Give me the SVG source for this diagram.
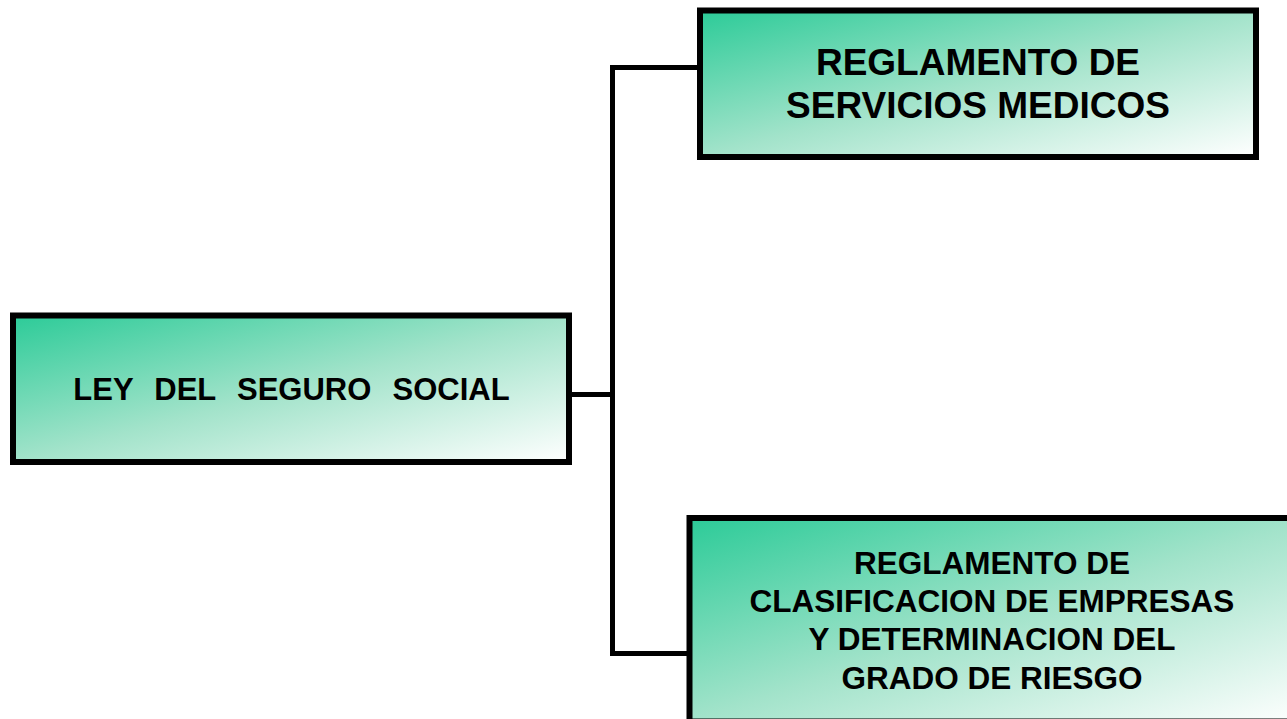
<svg xmlns="http://www.w3.org/2000/svg" width="1287" height="719" viewBox="0 0 1287 719">
<defs>
<linearGradient id="g" x1="0" y1="0" x2="1" y2="1">
<stop offset="0" stop-color="#2CCB98"/>
<stop offset="0.5" stop-color="#A2E3CA"/>
<stop offset="1" stop-color="#FFFFFF"/>
</linearGradient>
</defs>
<style>
.box{fill:url(#g);stroke:#000;stroke-width:6}
.t{font-family:"Liberation Sans",Arial,sans-serif;font-weight:bold;fill:#000;text-anchor:middle}
.c{fill:none;stroke:#000;stroke-width:5}
</style>
<rect width="1287" height="719" fill="#fff"/>
<g id="connectors">
<line class="c" x1="612.5" y1="65" x2="612.5" y2="656"/>
<line class="c" x1="610" y1="67.5" x2="700" y2="67.5"/>
<line class="c" x1="569" y1="394.5" x2="612.5" y2="394.5"/>
<line class="c" x1="610" y1="653.5" x2="690" y2="653.5"/>
</g>
<g id="ley">
<rect class="box" x="13" y="315.5" width="556" height="146.5"/>
<text class="t" x="291.5" y="400" font-size="31" xml:space="preserve" style="white-space:pre;word-spacing:2px">LEY  DEL  SEGURO  SOCIAL</text>
</g>
<g id="servicios">
<rect class="box" x="700" y="10.5" width="556" height="146.5"/>
<text class="t" x="978" y="75" font-size="37">REGLAMENTO DE</text>
<text class="t" x="978" y="118" font-size="37">SERVICIOS MEDICOS</text>
</g>
<g id="clasificacion">
<rect class="box" x="689.5" y="518" width="620" height="203.5"/>
<text class="t" x="992" y="574" font-size="31.5">REGLAMENTO DE</text>
<text class="t" x="992" y="612" font-size="31.5">CLASIFICACION DE EMPRESAS</text>
<text class="t" x="992" y="650" font-size="31.5">Y DETERMINACION DEL</text>
<text class="t" x="992" y="689" font-size="31.5">GRADO DE RIESGO</text>
</g>
</svg>
